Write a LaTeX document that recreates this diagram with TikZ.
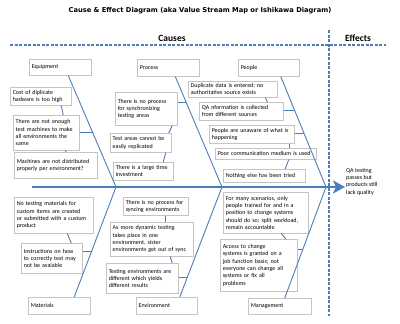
\documentclass[tikz,border=0pt]{standalone}
\usepackage{fontspec}
\setmainfont{Carlito}
\newfontfamily\titlefont{DejaVu Sans}
\usetikzlibrary{arrows.meta,calc}

\definecolor{boneblue}{HTML}{4A7EBB}
\definecolor{dashblue}{HTML}{4A7EBB}
\definecolor{boxgray}{HTML}{C4C4C4}

\tikzset{
	cause/.style={draw=boxgray, line width=0.5pt, fill=white, anchor=north west, align=left,
		inner xsep=2.5pt, inner ysep=2pt, font=\fontsize{6}{7.3}\selectfont},
	bone/.style={draw=boneblue, line width=0.9pt},
	spine/.style={draw=boneblue, line width=2.2pt, -{Stealth[length=12pt,width=13pt,inset=3pt]}},
	divider/.style={draw=dashblue, line width=1.1pt, dash pattern=on 3pt off 1.5pt}
}

\begin{document}
\begin{tikzpicture}[x=1pt, y=-1pt]
	\useasboundingbox (0,0) rectangle (400,324);

	% headings
	\node (title) at (200,11) {\titlefont\bfseries\fontsize{6.7}{8}\selectfont Cause \& Effect Diagram (aka Value Stream Map or Ishikawa Diagram)};
	\node (causes) at (172,38) {\bfseries\fontsize{9.5}{11}\selectfont Causes};
	\node (effects) at (358,38) {\bfseries\fontsize{9.5}{11}\selectfont Effects};
	\draw[divider] (10,45) -- (386,45);
	\draw[divider] (329,30) -- (329,316);

	% categories
	\node[cause, text width=57pt, minimum height=16pt] (equip) at (29,59) {Equipment};
	\node[cause, text width=57pt, minimum height=17pt] (process) at (137,59) {Process};
	\node[cause, text width=56pt, minimum height=17pt] (people) at (238,59) {People};
	\node[cause, text width=57pt, minimum height=17pt] (materials) at (28,297) {Materials};
	\node[cause, text width=56pt, minimum height=17pt] (environment) at (136,297) {Environment};
	\node[cause, text width=58pt, minimum height=16pt] (management) at (248,298) {Management};

	% equipment causes
	\node[cause, text width=56pt, minimum height=18pt] (cost) at (10,87) {Cost of diplicate\\hadware is too high};
	\node[cause, text width=61pt, minimum height=35pt] (enough) at (13,115) {There are not enough\\test machines to make\\all environments the\\same};
	\node[cause, text width=78pt, minimum height=26pt] (distrib) at (14,152) {Machines are not distributed\\properly per environment?};

	% process causes
	\node[cause, text width=57pt, minimum height=33pt] (syncarea) at (115,92) {There is no process\\for synchronizing\\testing areas};
	\node[cause, text width=56pt, minimum height=19pt] (replic) at (110,133) {Test areas cannot be\\easily replicated};
	\node[cause, text width=55pt, minimum height=18pt] (invest) at (113,162) {There is a large time\\investment};

	% people causes
	\node[cause, text width=84pt, minimum height=16pt] (dup) at (188,81) {Duplicate data is entered; no\\authoritative source exists};
	\node[cause, text width=79pt, minimum height=18pt] (qainfo) at (199,102) {QA nformation is collected\\from different sources};
	\node[cause, text width=80pt, minimum height=18pt] (unaware) at (209,125) {People are unaware of what is\\happening};
	\node[cause, text width=96pt, minimum height=11pt] (comm) at (215,148) {Poor communication medium is used};
	\node[cause, text width=77pt, minimum height=13pt] (nothing) at (223,169) {Nothing else has been tried};

	% materials causes
	\node[cause, text width=74pt, minimum height=36pt] (matdesc) at (14,197) {No testing materials for\\custom items are created\\or submitted with a custom\\product};
	\node[cause, text width=56pt, minimum height=30pt] (instr) at (21,243) {Instructions on how\\to correctly test may\\not be avaiable};

	% environment causes
	\node[cause, text width=60pt, minimum height=18pt] (syncenv) at (123,197) {There is no process for\\syncing environments};
	\node[cause, text width=78pt, minimum height=34pt] (dynamic) at (110,222) {As more dynamic testing\\takes place in one\\environment, sister\\environments get out of sync};
	\node[cause, text width=67pt, minimum height=30pt] (differ) at (106,263) {Testing environments are\\different which yields\\different results};

	% management causes
	\node[cause, text width=80pt, minimum height=41pt] (trained) at (223,192) {For many scenarios, only\\people trained for and in a\\position to change systems\\should do so; split workload,\\remain accountable};
	\node[cause, text width=72pt, minimum height=52pt] (access) at (220,239) {Access to change\\systems is granted on a\\job function basis; not\\everyone can change all\\systems or fix all\\problems};

	% effect
	\node[anchor=north west, align=left, inner sep=0pt, font=\fontsize{6}{7.3}\selectfont] (effect) at (346,168) {QA testing\\passes but\\products still\\lack quality};

	% spine and bones
	\coordinate (tail) at (32,187);
	\coordinate (head) at (345,187);
	\coordinate (j1) at (116,187);
	\coordinate (j2) at (222,187);
	\coordinate (j3) at (326,187);
	\coordinate (e1) at ([xshift=8pt]equip.south);
	\coordinate (e2) at ([xshift=7pt]process.south);
	\coordinate (e3) at ([xshift=12pt]people.south);
	\coordinate (e4) at ([xshift=15pt]materials.north);
	\coordinate (e5) at ([xshift=13pt]environment.north);
	\coordinate (e6) at ([xshift=5pt]management.north);

	\draw[spine] (tail) -- (head);
	\draw[bone] (e1) -- (j1);
	\draw[bone] (e2) -- (j2);
	\draw[bone] (e3) -- (j3);
	\draw[bone] (e4) -- (j1);
	\draw[bone] (e5) -- (j2);
	\draw[bone] (e6) -- (j3);

	% ticks onto the bones
	\coordinate (p1) at ($(e1)!0.51!(j1)$);
	\coordinate (p2) at ($(e2)!0.234!(j2)$);
	\coordinate (p3) at ($(e3)!0.306!(j3)$);
	\coordinate (p4) at ($(e3)!0.514!(j3)$);
	\coordinate (p5) at ($(e4)!0.418!(j1)$);
	\coordinate (p6) at ($(e5)!0.18!(j2)$);
	\coordinate (p7) at ($(e6)!0.44!(j3)$);
	\draw[bone] (p1 -| enough.east) -- (p1);
	\draw[bone] (p2 -| syncarea.east) -- (p2);
	\draw[bone] (p3 -| qainfo.east) -- (p3);
	\draw[bone] (p4 -| unaware.east) -- (p4);
	\draw[bone] (p5 -| instr.east) -- (p5);
	\draw[bone] (p6 -| differ.east) -- (p6);
	\draw[bone] (p7 -| access.east) -- (p7);

	% ticks between causes
	\draw[bone] ([xshift=20.5pt]cost.south) -- ([xshift=17pt]enough.north);
	\draw[bone] ([xshift=19pt]enough.south) -- ([xshift=10.5pt]distrib.north);
	\draw[bone] ([xshift=26pt]syncarea.south) -- ([xshift=28pt]replic.north);
	\draw[bone] ([xshift=25pt]replic.south) -- ([xshift=20pt]invest.north);
	\draw[bone] ([xshift=32.5pt]dup.south) -- ([xshift=26pt]qainfo.north);
	\draw[bone] ([xshift=38pt]unaware.south) -- ([xshift=24pt]comm.north);
	\draw[bone] ([xshift=23pt]comm.south) -- ([xshift=21pt]nothing.north);
	\draw[bone] ([xshift=13.5pt]matdesc.south) -- ([xshift=19.5pt]instr.north);
	\draw[bone] ([xshift=9.5pt]syncenv.south) -- ([xshift=13.5pt]dynamic.north);
	\draw[bone] ([xshift=18.5pt]dynamic.south) -- ([xshift=30pt]differ.north);
	\draw[bone] ([xshift=15.5pt]trained.south) -- ([xshift=27pt]access.north);
\end{tikzpicture}
\end{document}
